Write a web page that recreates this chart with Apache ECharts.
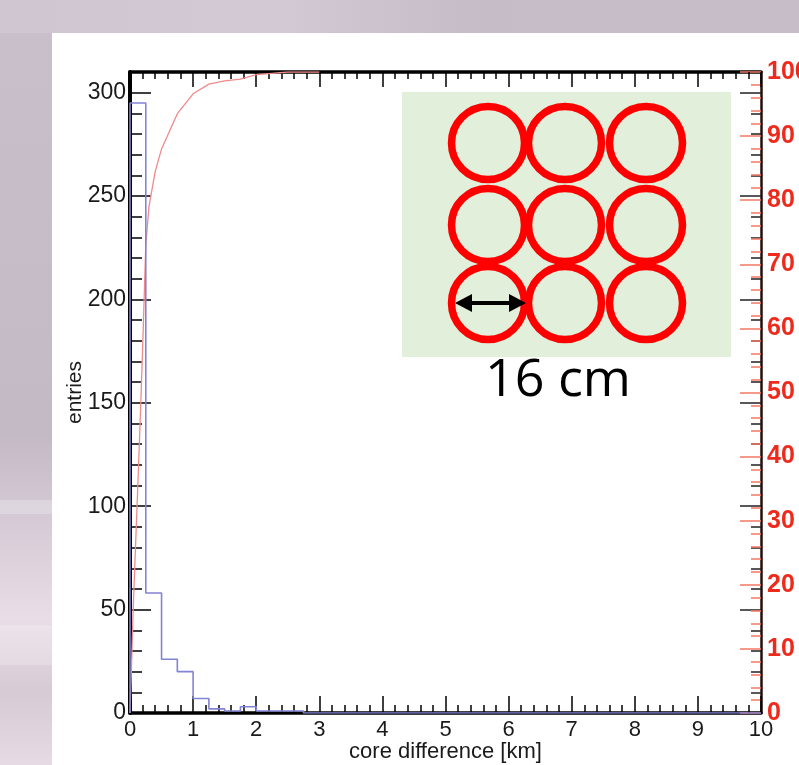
<!DOCTYPE html>
<html><head><meta charset="utf-8">
<script src="https://cdn.jsdelivr.net/npm/echarts@6/dist/echarts.min.js"></script>
<style>html,body{margin:0;padding:0;background:#c6bdc9}#c{width:799px;height:765px}</style>
</head><body><div id="c"></div>
<script>
// ---- data ----
const binWidth = 0.25;                 // km
const entries = [295, 58, 26, 20, 7, 2, 1, 3, 1, 1, 1];   // histogram counts per bin
const cumX   = [0, 0.02, 0.05, 0.08, 0.13, 0.17, 0.21, 0.25, 0.3, 0.4, 0.5, 0.75, 1.0, 1.25, 1.5, 1.75, 2.0, 2.25, 2.5, 3.0];
const cumPct = [0, 6, 16, 24, 37, 48, 60, 73, 79, 84.5, 88, 93.5, 96.6, 98.1, 98.6, 98.9, 99.6, 99.8, 100, 100];
const xMin = 0, xMax = 10;
const entriesMax = 310;
const entriesMajor = [0, 50, 100, 150, 200, 250, 300];
const entriesMinor = [10,20,30,40,60,70,80,90,110,120,130,140,160,170,180,190,210,220,230,240,260,270,280,290];
const pctMax = 100;

// ---- build series data ----
const histData = [[0, 0]];
entries.forEach((v, i) => histData.push([i * binWidth, v]));
histData.push([entries.length * binWidth, 0]);
histData.push([xMax, 0]);
const cumData = cumX.map((x, i) => [x, cumPct[i]]);

const FONT = '"Liberation Sans", Arial, Helvetica, sans-serif';
const chart = echarts.init(document.getElementById('c'));

const xBase = {
  type: 'value', min: xMin, max: xMax, interval: 1,
  axisLine: { onZero: false, lineStyle: { color: '#000', width: 3.5 } },
  splitLine: { show: false }
};
const yBase = { type: 'value', min: 0, max: entriesMax, splitLine: { show: false } };

chart.setOption({
  backgroundColor: '#c6bdc9',
  animation: false,
  grid: { left: 130, right: 38, top: 72, bottom: 52, containLabel: false, outerBoundsMode: 'none' },
  xAxis: [
    Object.assign({}, xBase, {
      position: 'bottom',
      name: 'core difference [km]', nameLocation: 'middle', nameGap: 28, nameMoveOverlap: false,
      nameTextStyle: { color: '#1a1a1a', fontSize: 22, fontFamily: FONT },
      axisTick: { inside: true, length: 17, lineStyle: { color: '#000', width: 1.5 } },
      minorTick: { show: true, splitNumber: 5, length: 8, lineStyle: { color: '#000', width: 1.5 } },
      axisLabel: { color: '#1a1a1a', fontSize: 22, fontFamily: FONT, margin: 6 }
    }),
    Object.assign({}, xBase, {
      position: 'top',
      axisTick: { inside: true, length: 15, lineStyle: { color: '#000', width: 1.5 } },
      minorTick: { show: true, splitNumber: 5, length: 7, lineStyle: { color: '#000', width: 1.5 } },
      axisLabel: { show: false }
    })
  ],
  yAxis: [
    Object.assign({}, yBase, {
      position: 'left',
      name: 'entries', nameLocation: 'middle', nameGap: 44, nameMoveOverlap: false,
      nameTextStyle: { color: '#1a1a1a', fontSize: 21, fontFamily: FONT },
      axisLine: { show: true, lineStyle: { color: '#000', width: 4 } },
      axisTick: { show: true, inside: true, length: 21, customValues: entriesMajor, lineStyle: { color: '#000', width: 1.5 } },
      axisLabel: { show: true, customValues: entriesMajor, color: '#1a1a1a', fontSize: 23, fontFamily: FONT, margin: 4 }
    }),
    Object.assign({}, yBase, {
      position: 'left',
      axisLine: { show: false },
      axisTick: { show: true, inside: true, length: 12, customValues: entriesMinor, lineStyle: { color: '#000', width: 1.5 } },
      axisLabel: { show: false }
    }),
    Object.assign({}, yBase, {
      position: 'right',
      axisLine: { show: false },
      axisTick: { show: true, inside: true, length: 21, customValues: entriesMajor, lineStyle: { color: '#222', width: 1.5 } },
      axisLabel: { show: false }
    }),
    Object.assign({}, yBase, {
      position: 'right',
      axisLine: { show: false },
      axisTick: { show: true, inside: true, length: 10, customValues: entriesMinor, lineStyle: { color: '#222', width: 1.5 } },
      axisLabel: { show: false }
    }),
    {
      type: 'value', position: 'right', min: 0, max: pctMax, interval: 10,
      splitLine: { show: false },
      axisLine: { show: true, lineStyle: { color: '#2a0d0a', width: 2.5 } },
      axisTick: { show: true, inside: true, length: 21, lineStyle: { color: '#f07a66', width: 1.5 } },
      minorTick: { show: true, splitNumber: 5, length: 10, lineStyle: { color: '#f07a66', width: 1.5 } },
      axisLabel: { color: '#ee2a1c', fontSize: 25, fontWeight: 'bold', fontFamily: FONT, margin: 6 }
    }
  ],
  series: [
    {
      type: 'line', name: 'entries', step: 'end', xAxisIndex: 0, yAxisIndex: 0,
      data: histData, showSymbol: false, symbol: 'none',
      lineStyle: { color: '#8282d6', width: 1.6 }, z: 3
    },
    {
      type: 'line', name: 'cumulative', xAxisIndex: 0, yAxisIndex: 4,
      data: cumData, showSymbol: false, symbol: 'none',
      lineStyle: { color: '#f08a8a', width: 1.3 }, z: 2
    }
  ],
  graphic: [
    // slide background: white panel and light streaks
    { type: 'rect', z: -10, silent: true, shape: { x: 0, y: 0, width: 799, height: 33 },
      style: { fill: new echarts.graphic.LinearGradient(0, 0, 1, 0, [
        { offset: 0, color: '#cfc6d2' }, { offset: 0.35, color: '#d2c9d5' }, { offset: 0.6, color: '#c5bcc8' }, { offset: 1, color: '#c6bdc9' }]) } },
    { type: 'rect', z: -10, silent: true, shape: { x: 0, y: 33, width: 52, height: 732 },
      style: { fill: new echarts.graphic.LinearGradient(0, 0, 0, 1, [
        { offset: 0, color: '#c8bfcb' }, { offset: 0.55, color: '#c4bac6' }, { offset: 0.72, color: '#ddd2dc' },
        { offset: 0.8, color: '#e9dee7' }, { offset: 0.9, color: '#d6cbd5' }, { offset: 1, color: '#e6dbe4' }]) } },
    { type: 'rect', z: -9, silent: true, shape: { x: 0, y: 500, width: 52, height: 14 }, style: { fill: 'rgba(255,255,255,0.25)' } },
    { type: 'rect', z: -9, silent: true, shape: { x: 0, y: 625, width: 52, height: 40 }, style: { fill: 'rgba(255,255,255,0.2)' } },
    { type: 'rect', z: -8, silent: true, shape: { x: 52, y: 33, width: 747, height: 732 }, style: { fill: '#ffffff' } },
    // inset picture: 3x3 detector circles
    { type: 'rect', z: 10, silent: true, shape: { x: 402, y: 92, width: 329, height: 265 }, style: { fill: '#e2efda' } },
    { type: 'group', z: 11, silent: true, children: (function () {
        const cx = [488, 565, 646], cy = [143, 225, 303], out = [];
        cy.forEach(y => cx.forEach(x => out.push({ type: 'circle', z: 11,
          shape: { cx: x, cy: y, r: 36.5 }, style: { fill: 'none', stroke: '#ff0000', lineWidth: 7.5 } })));
        return out;
      })() },
    { type: 'line', z: 12, silent: true, shape: { x1: 468, y1: 303, x2: 513, y2: 303 }, style: { stroke: '#000', lineWidth: 4 } },
    { type: 'polygon', z: 12, silent: true, shape: { points: [[455, 303], [472, 294], [472, 312]] }, style: { fill: '#000' } },
    { type: 'polygon', z: 12, silent: true, shape: { points: [[526, 303], [509, 294], [509, 312]] }, style: { fill: '#000' } },
    { type: 'text', z: 12, silent: true, x: 558, y: 381,
      style: { text: '16 cm', fill: '#000', font: '52px "Open Sans", Calibri, sans-serif', align: 'center', verticalAlign: 'middle' } }
  ]
});
</script>
</body></html>
